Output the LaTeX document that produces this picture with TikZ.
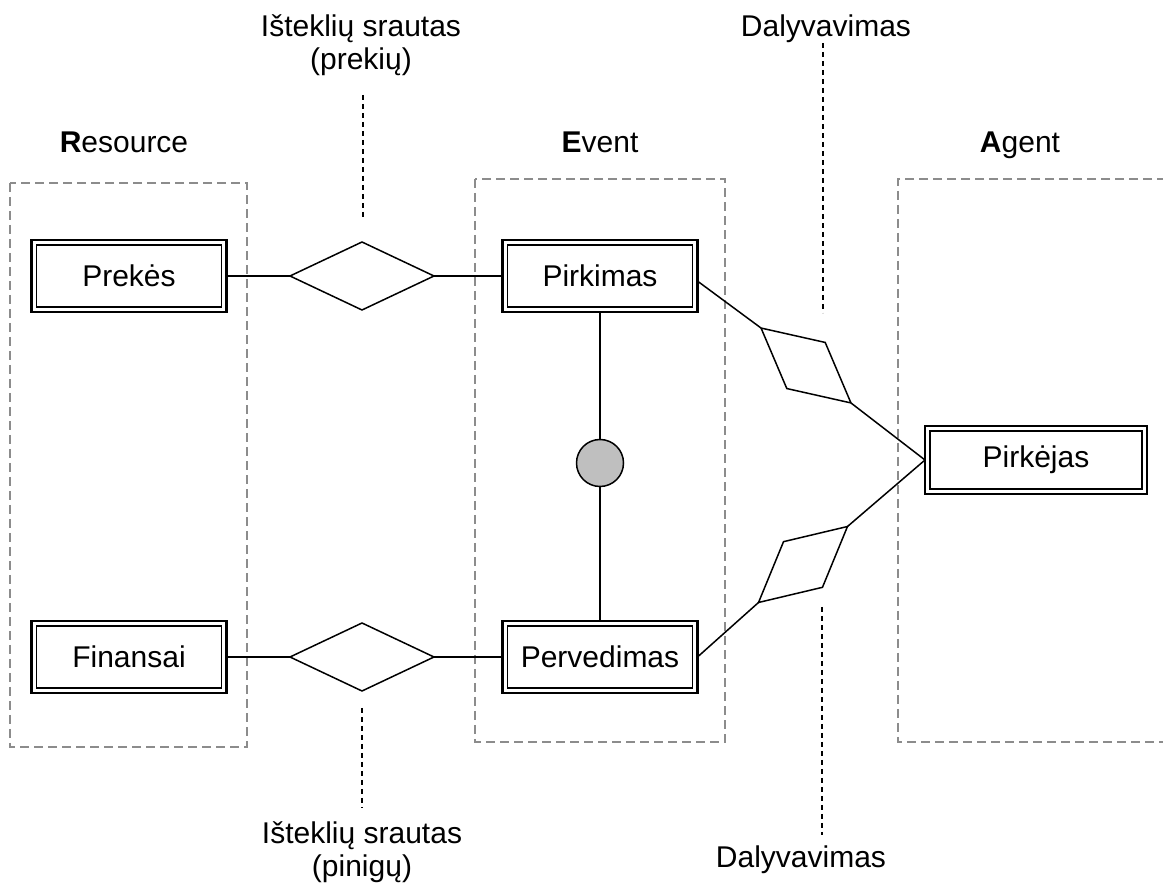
\documentclass[tikz,border=0pt]{standalone}
\usepackage{fontspec}
\setmainfont{Liberation Sans}
\usetikzlibrary{shapes.geometric,calc}
\begin{document}
\begin{tikzpicture}[x=0.5pt,y=-0.5pt,
  font=\fontsize{15pt}{16.5pt}\selectfont,
  every node/.style={inner sep=0pt, outer sep=0pt},
  entity/.style={draw, line width=1.2pt, minimum width=97.5pt, minimum height=36pt},
  group/.style={draw=black!45, line width=0.75pt, dash pattern=on 4.5pt off 2.5pt},
  rel/.style={draw, diamond, line width=0.75pt, minimum width=72pt, minimum height=34pt},
  relslant/.style={draw, diamond, line width=0.75pt, minimum width=58.5pt, minimum height=30pt},
  joint/.style={draw, circle, line width=0.75pt, fill=black!25, minimum size=23.5pt},
  link/.style={line width=0.75pt},
  note/.style={line width=0.75pt, dash pattern=on 2.5pt off 2pt},
  label/.style={anchor=base, align=center},
]
\useasboundingbox (0,0) rectangle (1163,886);

% REA group frames
\draw[group] (10,183) rectangle (247,747);
\draw[group] (475,179) rectangle (725,742);
\draw[group] (1180,179) -- (898,179) -- (898,742) -- (1180,742);

% group headings
\node[label] (hres) at (124,153) {\textbf{R}esource};
\node[label] (hevt) at (600,153) {\textbf{E}vent};
\node[label] (hagt) at (1020,153) {\textbf{A}gent};

% entities
\node[entity] (prekes) at (129,276) {Prekės};
\node[entity] (finansai) at (129,657) {Finansai};
\node[entity] (pirkimas) at (600,276) {Pirkimas};
\node[entity] (pervedimas) at (600,657) {Pervedimas};
\node[entity, minimum width=111pt, minimum height=34pt] (pirkejas) at (1036,460) {Pirkėjas};
\foreach \n in {prekes,finansai,pirkimas,pervedimas,pirkejas}
  \draw[line width=0.8pt] ([shift={(2.5pt,-2.5pt)}]\n.north west)
    rectangle ([shift={(-2.5pt,2.5pt)}]\n.south east);

% relationships
\node[rel] (flowgoods) at (362,276) {};
\node[rel] (flowmoney) at (362,657) {};
\node[relslant, rotate=-39.8] (partbuy) at (806,365.5) {};
\node[relslant, rotate=40.5] (partpay) at (803,564.5) {};
\node[joint] (duality) at (600,463) {};

% connectors
\draw[link] (prekes.east) -- (flowgoods.west);
\draw[link] (flowgoods.east) -- (pirkimas.west);
\draw[link] (finansai.east) -- (flowmoney.west);
\draw[link] (flowmoney.east) -- (pervedimas.west);
\draw[link] (pirkimas.south) -- (duality.north);
\draw[link] (duality.south) -- (pervedimas.north);
\draw[link] (pirkimas.-3) -- (partbuy.west);
\draw[link] (partbuy.east) -- (pirkejas.west);
\draw[link] (pervedimas.east) -- (partpay.west);
\draw[link] (partpay.east) -- (pirkejas.west);

% annotations (a two-line node sits on the baseline of its last line)
\node[label] (tgoods) at (361,70) {Išteklių srautas\\(prekių)};
\node[label] (tmoney) at (362,877) {Išteklių srautas\\(pinigų)};
\node[label] (tbuy) at (826,37) {Dalyvavimas};
\node[label] (tpay) at (801,868) {Dalyvavimas};
\coordinate (ga) at (363,95);  \coordinate (gb) at (363,218);
\coordinate (ma) at (362,708); \coordinate (mb) at (362,808);
\coordinate (ba) at (823,43);  \coordinate (bb) at (823,313);
\coordinate (pa) at (822,607); \coordinate (pb) at (822,835);
\draw[note] (ga) -- (gb);
\draw[note] (ma) -- (mb);
\draw[note] (ba) -- (bb);
\draw[note] (pa) -- (pb);
\end{tikzpicture}
\end{document}
